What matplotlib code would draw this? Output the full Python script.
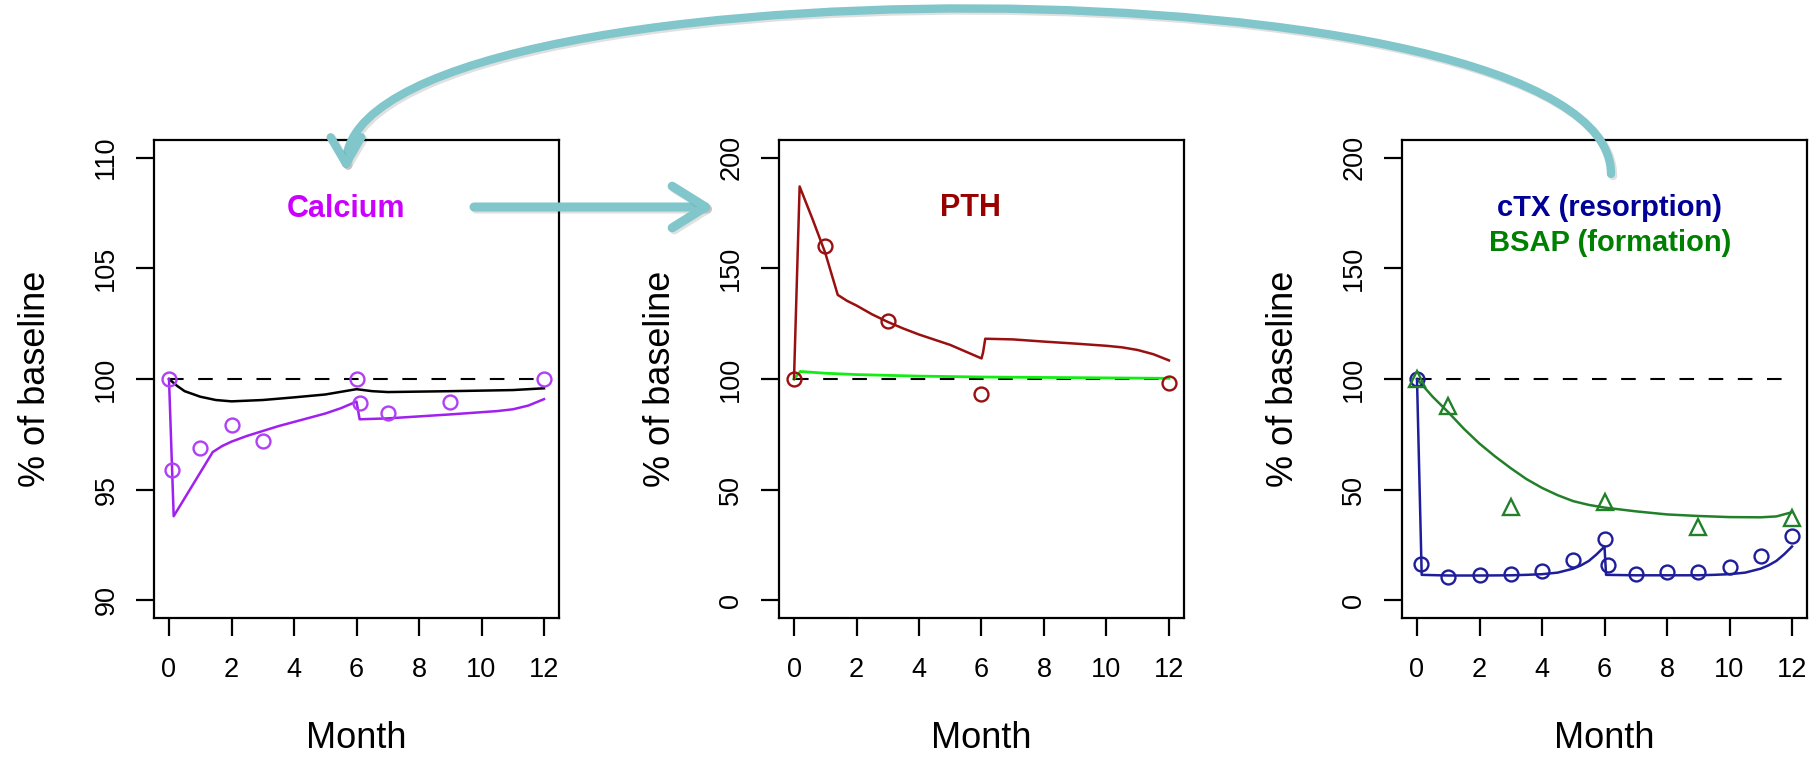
import numpy as np
import matplotlib.pyplot as plt
from matplotlib.patches import FancyArrowPatch
from matplotlib.path import Path
import matplotlib.patheffects as pe

plt.rcParams['font.family'] = ['Liberation Sans', 'DejaVu Sans']

W, H = 1820, 758
month_ticks = [0, 2, 4, 6, 8, 10, 12]

# calcium panel
ca_obs_t = [0, 0.1, 1, 2, 3, 6, 6.1, 7, 9, 12]
ca_obs = [100, 95.9, 96.9, 97.9, 97.2, 100, 98.9, 98.45, 98.95, 100]
ca_fit_t = [0, 0.15, 1.4, 1.7, 2, 2.5, 3, 3.5, 4, 4.5, 5, 5.5, 6, 6.1, 7, 8, 9, 10, 10.5, 11, 11.5, 12]
ca_fit = [100, 93.8, 96.7, 96.97, 97.17, 97.43, 97.65, 97.87, 98.06, 98.25, 98.44, 98.68, 98.98,
          98.18, 98.22, 98.31, 98.4, 98.5, 98.55, 98.63, 98.8, 99.09]
ca_ref_t = [0, 0.25, 0.5, 1, 1.5, 2, 3, 4, 5, 6, 6.5, 7, 9, 11, 12]
ca_ref = [100, 99.7, 99.45, 99.2, 99.05, 98.99, 99.05, 99.17, 99.3, 99.54, 99.45, 99.41, 99.45, 99.5, 99.58]

# PTH panel
pth_obs_t = [0, 1, 3, 6, 12]
pth_obs = [100, 160.3, 126.1, 93.4, 98.1]
pth_fit_t = [0, 0.18, 0.6, 1, 1.4, 1.7, 2, 2.5, 3, 3.5, 4, 5, 6, 6.05, 6.12, 7, 8, 9, 10, 10.5, 11, 11.5, 12]
pth_fit = [100, 187, 172, 157, 138, 135.3, 133.2, 129.2, 125.8, 122.8, 120.1, 115.4, 109.3, 112, 118.2,
           117.9, 116.9, 116, 115, 114.3, 113.1, 111.2, 108.4]
pth_ref_t = [0, 0.2, 1, 2, 4, 6, 8, 10, 12]
pth_ref = [100, 103.4, 102.6, 102, 101.3, 100.9, 100.7, 100.5, 100.3]

# bone marker panel
ctx_obs_t = [0, 0.13, 1, 2, 3, 4, 5, 6, 6.1, 7, 8, 9, 10, 11, 12]
ctx_obs = [100, 16.4, 10.6, 11.5, 11.9, 13.4, 18.3, 27.8, 15.9, 12.1, 13.0, 13.0, 14.9, 20.2, 29.1]
ctx_fit_t = [0, 0.15, 1, 2, 3, 3.5, 4, 4.5, 5, 5.25, 5.5, 5.75, 6, 6.05, 7, 8, 9, 9.5, 10, 10.5,
             11, 11.25, 11.5, 11.75, 12]
ctx_fit = [100, 11.5, 11.2, 11.2, 11.3, 11.5, 11.8, 12.5, 14.3, 15.8, 17.8, 20.8, 24.3, 11.5, 11.3,
           11.3, 11.3, 11.5, 11.8, 12.5, 14.3, 15.8, 17.8, 20.8, 24.3]
bsap_obs_t = [0, 1, 3, 6, 9, 12]
bsap_obs = [100, 87.9, 42, 44.3, 33, 37.3]
bsap_fit_t = [0, 0.5, 1, 1.5, 2, 2.5, 3, 3.5, 4, 4.5, 5, 5.5, 6, 7, 8, 9, 10, 11, 11.5, 12]
bsap_fit = [100, 92, 85, 77.5, 70.8, 65, 59.7, 54.8, 50.8, 47.5, 44.8, 43.1, 41.9, 40.2, 38.8,
            38.1, 37.6, 37.5, 37.9, 39.8]

fig = plt.figure(figsize=(W / 100, H / 100), dpi=100)

def px(x, y):
    return (x / W, 1 - y / H)

def make_ax(left, yticks, ylim):
    ax = fig.add_axes([left / W, (H - 618) / H, 405 / W, 478 / H])
    ax.set_xlim(-0.48, 12.48)
    ax.set_ylim(*ylim)
    ax.set_xticks(month_ticks)
    ax.set_yticks(yticks)
    for s in ax.spines.values():
        s.set_linewidth(1.6)
    ax.tick_params(length=13, width=1.6, labelsize=19.5, pad=15)
    ax.tick_params(axis='y', labelrotation=90, pad=12)
    for lab in ax.get_yticklabels():
        lab.set_va('center')
    ax.set_xlabel('Month', fontsize=26)
    ax.xaxis.set_label_coords(0.5, -0.215)
    ax.set_ylabel('% of baseline', fontsize=26)
    ax.yaxis.set_label_coords(-0.25, 0.5)
    ax.plot([0, 12], [100, 100], color='black', lw=1.5, ls=(0, (7, 7)))
    return ax

ax1 = make_ax(154, [90, 95, 100, 105, 110], (89.2, 110.8))
ax1.plot(ca_ref_t, ca_ref, color='black', lw=1.8)
ax1.plot(ca_fit_t, ca_fit, color='#A020F0', lw=1.8)
ax1.plot(ca_obs_t, ca_obs, 'o', mfc='none', mec='#B040F5', ms=10, mew=1.7)
ax1.text(5.68, 107.7, 'Calcium', color='#CC00FF', fontsize=22, fontweight='bold', ha='center', va='center')

ax2 = make_ax(779, [0, 50, 100, 150, 200], (-8, 208))
ax2.plot(pth_ref_t, pth_ref, color='#11EE11', lw=2)
ax2.plot(pth_fit_t, pth_fit, color='#9A1010', lw=1.8)
ax2.plot(pth_obs_t, pth_obs, 'o', mfc='none', mec='#9A1010', ms=10, mew=1.7)
ax2.text(5.66, 177.1, 'PTH', color='#990000', fontsize=22, fontweight='bold', ha='center', va='center')

ax3 = make_ax(1402, [0, 50, 100, 150, 200], (-8, 208))
ax3.plot(bsap_fit_t, bsap_fit, color='#23802A', lw=1.8)
ax3.plot(ctx_fit_t, ctx_fit, color='#1E1E9A', lw=1.8)
ax3.plot(ctx_obs_t, ctx_obs, 'o', mfc='none', mec='#1E1E9A', ms=10, mew=1.7)
ax3.plot(bsap_obs_t, bsap_obs, '^', mfc='none', mec='#23802A', ms=12, mew=1.7)
ax3.text(6.17, 177.1, 'cTX (resorption)', color='#000099', fontsize=21, fontweight='bold', ha='center', va='center')
ax3.text(6.19, 161.5, 'BSAP (formation)', color='#008000', fontsize=21, fontweight='bold', ha='center', va='center')

# feedback arrows
teal = '#80C6CB'
shadow = [pe.SimpleLineShadow(offset=(1.5, -1.5), shadow_color='black', alpha=0.12), pe.Normal()]

arc = Path([px(1611, 174), px(1611, -45), px(346, -45), px(346, 172)],
           [Path.MOVETO, Path.CURVE4, Path.CURVE4, Path.CURVE4])
a1 = FancyArrowPatch(path=arc, arrowstyle='->,head_length=19,head_width=11',
                     transform=fig.transFigure, color=teal, lw=6,
                     capstyle='round', joinstyle='round', path_effects=shadow)
fig.add_artist(a1)

a2 = FancyArrowPatch(px(474, 207), px(714, 207), arrowstyle='->,head_length=24,head_width=15',
                     transform=fig.transFigure, color=teal, lw=6.5,
                     capstyle='round', joinstyle='round', path_effects=shadow,
                     shrinkA=0, shrinkB=0)
fig.add_artist(a2)

fig.savefig('out.png', dpi=100)
